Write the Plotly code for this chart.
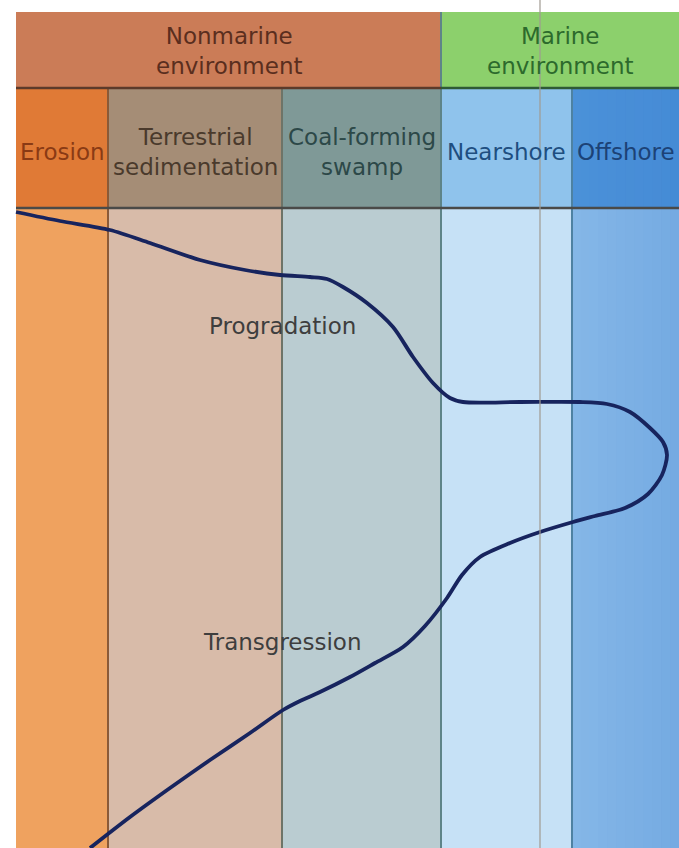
import plotly.graph_objects as go

# ---- data ----
zone_names = ["Erosion", "Terrestrial<br>sedimentation", "Coal-forming<br>swamp", "Nearshore", "Offshore"]
zone_edges = [16, 108, 282, 441, 572, 679]
zone_body_colors = ["#EFA25F", "#D8BBA9", "#BACCD1", "#C6E1F6", "#86B8E8"]
zone_head_colors = ["#E07A36", "#A58D76", "#7F9997", "#8FC3EC", "#4C92D9"]
zone_text_colors = ["#8A3A14", "#4A3A2C", "#2C4848", "#1E4E80", "#1C4276"]
zone_sep_colors = ["#8A5A38", "#6E7468", "#5E8488", "#4E82A2"]

env_names = ["Nonmarine<br>environment", "Marine<br>environment"]
env_edges = [16, 441, 679]
env_colors = ["#CB7C57", "#8CD06C"]
env_text_colors = ["#5A2E1E", "#2C6A2C"]

row_edges = [12, 88, 208, 848]

curve_x = [16, 60, 110, 150, 200, 245, 280, 310, 327, 343, 367, 393, 413, 433, 450, 463,
           520, 580, 607, 630, 650, 663, 667, 662, 648, 625, 595, 573, 540, 510, 480, 462,
           447, 425, 403, 375, 350, 320, 300, 283, 250, 210, 170, 130, 90]
curve_y = [212, 221, 230, 243, 260, 270, 275, 277, 279, 287, 303, 327, 357, 383, 398, 402,
           402, 402, 404, 412, 428, 442, 455, 475, 494, 508, 516, 522, 532, 543, 557, 575,
           598, 626, 647, 663, 677, 692, 701, 710, 733, 760, 788, 817, 848]

process_labels = ["Progradation", "Transgression"]
process_x = [282, 282]
process_y = [326, 642]

marker_line_x = 540

FONT = "DejaVu Sans"
FSIZE = 23

fig = go.Figure()
shapes = []
annotations = []

# body columns and zone header cells
for i, name in enumerate(zone_names):
    x0, x1 = zone_edges[i], zone_edges[i + 1]
    shapes.append(dict(type="rect", xref="x", yref="y", x0=x0, x1=x1, y0=row_edges[2], y1=row_edges[3],
                       fillcolor=zone_body_colors[i], line_width=0, layer="below"))
    shapes.append(dict(type="rect", xref="x", yref="y", x0=x0, x1=x1, y0=row_edges[1], y1=row_edges[2],
                       fillcolor=zone_head_colors[i], line_width=0, layer="below"))
    annotations.append(dict(x=(x0 + x1) / 2, y=(row_edges[1] + row_edges[2]) / 2 + 4, xref="x", yref="y",
                            text=name, showarrow=False,
                            font=dict(family=FONT, size=FSIZE, color=zone_text_colors[i])))

# offshore darkens toward the right
grad_steps = 12
ox0, ox1 = zone_edges[4], zone_edges[5]
for k in range(grad_steps):
    a = (k + 1) / grad_steps * 0.35
    xs0 = ox0 + (ox1 - ox0) * k / grad_steps
    xs1 = ox0 + (ox1 - ox0) * (k + 1) / grad_steps
    shapes.append(dict(type="rect", xref="x", yref="y", x0=xs0, x1=xs1, y0=row_edges[1], y1=row_edges[3],
                       fillcolor="rgba(40,110,200,%.3f)" % (a * 0.5), line_width=0, layer="below"))

# environment header
for i, name in enumerate(env_names):
    x0, x1 = env_edges[i], env_edges[i + 1]
    shapes.append(dict(type="rect", xref="x", yref="y", x0=x0, x1=x1, y0=row_edges[0], y1=row_edges[1],
                       fillcolor=env_colors[i], line_width=0, layer="below"))
    annotations.append(dict(x=(x0 + x1) / 2, y=(row_edges[0] + row_edges[1]) / 2 + 1, xref="x", yref="y",
                            text=name, showarrow=False,
                            font=dict(family=FONT, size=FSIZE, color=env_text_colors[i])))

# column separators
for i, c in enumerate(zone_sep_colors):
    xe = zone_edges[i + 1]
    y_top = row_edges[0] if xe == env_edges[1] else row_edges[1]
    shapes.append(dict(type="line", xref="x", yref="y", x0=xe, x1=xe, y0=y_top, y1=row_edges[3],
                       line=dict(color=c, width=2), layer="below"))

# horizontal separators
shapes.append(dict(type="line", xref="x", yref="y", x0=env_edges[0], x1=env_edges[1], y0=row_edges[1], y1=row_edges[1],
                   line=dict(color="#5C3A2A", width=2.5), layer="below"))
shapes.append(dict(type="line", xref="x", yref="y", x0=env_edges[1], x1=env_edges[2], y0=row_edges[1], y1=row_edges[1],
                   line=dict(color="#2E5A36", width=2.5), layer="below"))
shapes.append(dict(type="line", xref="x", yref="y", x0=zone_edges[0], x1=zone_edges[-1], y0=row_edges[2], y1=row_edges[2],
                   line=dict(color="#4A4A48", width=2.5), layer="below"))

# thin vertical marker line
shapes.append(dict(type="line", xref="x", yref="y", x0=marker_line_x, x1=marker_line_x, y0=0, y1=row_edges[3],
                   line=dict(color="#A09A92", width=1.2), layer="above"))

# process labels
for t, x, y in zip(process_labels, process_x, process_y):
    annotations.append(dict(x=x, y=y, xref="x", yref="y", text=t, showarrow=False,
                            font=dict(family=FONT, size=FSIZE, color="#3E3E3E")))

fig.add_trace(go.Scatter(x=curve_x, y=curve_y, mode="lines",
                         line=dict(color="#17245E", width=3.8, shape="spline", smoothing=0.8),
                         hoverinfo="skip", showlegend=False))

fig.update_layout(
    width=679, height=848,
    margin=dict(l=0, r=0, t=0, b=0),
    paper_bgcolor="white", plot_bgcolor="white",
    shapes=shapes, annotations=annotations,
    xaxis=dict(range=[0, 679], visible=False, fixedrange=True),
    yaxis=dict(range=[848, 0], visible=False, fixedrange=True),
    showlegend=False,
)

fig.write_html("out.html", config={"displayModeBar": False},
               post_script="document.body.style.margin='0';document.body.style.overflow='hidden';")
